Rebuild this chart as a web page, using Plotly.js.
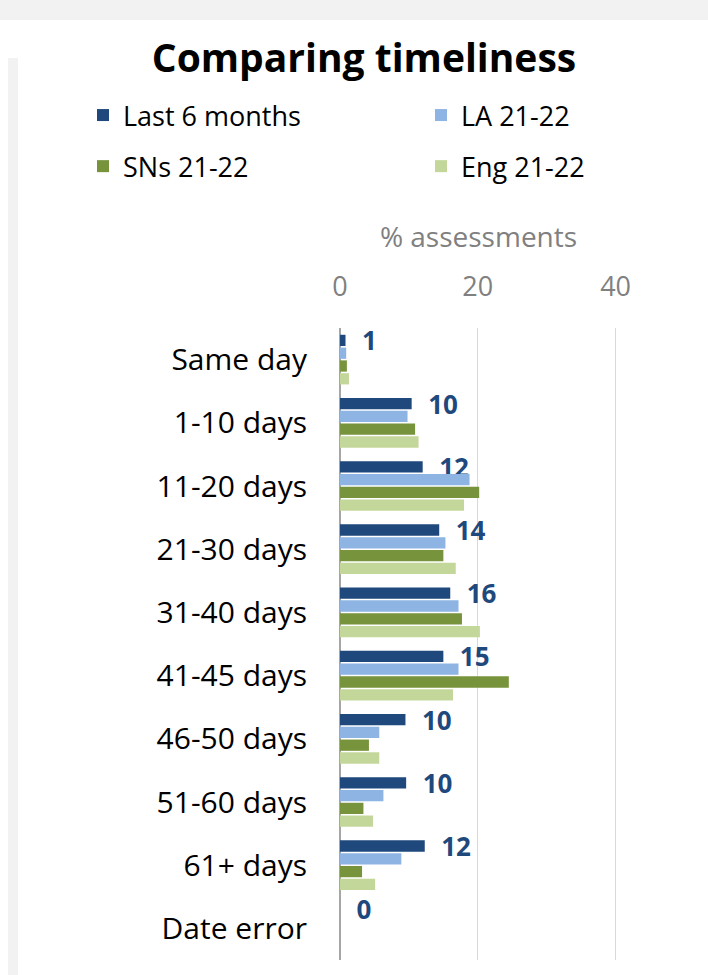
<!DOCTYPE html>
<html>
<head>
<meta charset="utf-8">
<script src="https://cdn.plot.ly/plotly-3.0.1.min.js"></script>
<style>
  html, body { margin: 0; padding: 0; background: #ffffff; }
  #wrap { position: relative; width: 708px; height: 975px; overflow: hidden; background: #ffffff; }
  #topstrip { position: absolute; left: 0; top: 0; width: 708px; height: 20px; background: #f2f2f2; }
  #leftstrip { position: absolute; left: 8px; top: 58px; width: 10px; height: 917px; background: #f2f2f2; }
  #chart { position: absolute; left: 0; top: 0; width: 708px; height: 975px; }
</style>
</head>
<body>
<div id="wrap">
  <div id="topstrip"></div>
  <div id="leftstrip"></div>
  <div id="chart"></div>
</div>
<script>
// ---- data ----
const categories = ["Same day", "1-10 days", "11-20 days", "21-30 days", "31-40 days",
                    "41-45 days", "46-50 days", "51-60 days", "61+ days", "Date error"];
const last6Months = [0.8, 10.4, 12.0, 14.4, 16.0, 15.0, 9.5, 9.6, 12.3, 0];
const la2122      = [0.9, 9.8, 18.8, 15.3, 17.2, 17.2, 5.7, 6.3, 8.9, 0];
const sns2122     = [1.0, 10.9, 20.2, 15.0, 17.7, 24.5, 4.2, 3.4, 3.2, 0];
const eng2122     = [1.3, 11.4, 18.0, 16.8, 20.3, 16.4, 5.7, 4.8, 5.1, 0];
const last6Labels = ["1", "10", "12", "14", "16", "15", "10", "10", "12", "0"];
const seriesNames = ["Last 6 months", "LA 21-22", "SNs 21-22", "Eng 21-22"];
const xTicks = [0, 20, 40];

const FONT = "Open Sans, Noto Sans, sans-serif";
const colors = ["#1f497d", "#8db4e2", "#77933c", "#c4d79b"];

function barTrace(vals, i, legendId) {
  return {
    type: "bar",
    orientation: "h",
    x: vals,
    y: categories,
    name: seriesNames[i],
    marker: { color: colors[i], line: { width: 0 } },
    legend: legendId,
    legendgroup: "g" + i,
    hoverinfo: "skip",
    cliponaxis: false
  };
}

const t0 = barTrace(last6Months, 0, "legend");
t0.text = last6Labels;
t0.texttemplate = "\u00a0\u00a0%{text}";
t0.textposition = "outside";
t0.constraintext = "none";
t0.textfont = { family: FONT, size: 26, weight: 700, color: "#1f497d" };

const data = [
  t0,
  barTrace(la2122, 1, "legend2"),
  barTrace(sns2122, 2, "legend"),
  barTrace(eng2122, 3, "legend2")
];

const legendCommon = {
  orientation: "v",
  xref: "container", yref: "container",
  xanchor: "left", yanchor: "top",
  y: 1 - 91 / 975,
  tracegroupgap: 13,
  bgcolor: "rgba(0,0,0,0)",
  borderwidth: 0,
  font: { family: FONT, size: 27, color: "#000000" }
};

const layout = {
  width: 708,
  height: 975,
  paper_bgcolor: "rgba(0,0,0,0)",
  plot_bgcolor: "rgba(0,0,0,0)",
  margin: { l: 340, r: 91, t: 328, b: 15, pad: 0, autoexpand: false },
  font: { family: FONT },
  title: {
    text: "Comparing timeliness",
    x: 364 / 708, xref: "container", xanchor: "center",
    y: 1 - 58 / 975, yref: "container", yanchor: "middle",
    font: { family: FONT, size: 39, weight: 700, color: "#000000" }
  },
  barmode: "group",
  bargap: 0.19,
  bargroupgap: 0.12,
  showlegend: true,
  legend: Object.assign({}, legendCommon, { x: 83 / 708 }),
  legend2: Object.assign({}, legendCommon, { x: 421 / 708 }),
  xaxis: {
    side: "top",
    range: [0, 40.2],
    tickmode: "array",
    tickvals: xTicks,
    ticktext: xTicks.map(String),
    ticks: "",
    ticklabelstandoff: 26,
    tickfont: { family: FONT, size: 27, color: "#808080" },
    showgrid: true,
    gridcolor: "#d9d9d9",
    gridwidth: 1.3,
    zeroline: true,
    zerolinecolor: "#a6a6a6",
    zerolinewidth: 2.5,
    showline: false,
    automargin: false,
    fixedrange: true,
    title: {
      text: "% assessments",
      standoff: 10,
      font: { family: FONT, size: 28, color: "#808080" }
    }
  },
  yaxis: {
    type: "category",
    autorange: "reversed",
    ticks: "",
    ticklabelstandoff: 32,
    tickfont: { family: FONT, size: 30, color: "#000000" },
    showgrid: false,
    zeroline: false,
    showline: false,
    automargin: false,
    fixedrange: true
  }
};

Plotly.newPlot("chart", data, layout, { staticPlot: true, displayModeBar: false });
</script>
</body>
</html>
